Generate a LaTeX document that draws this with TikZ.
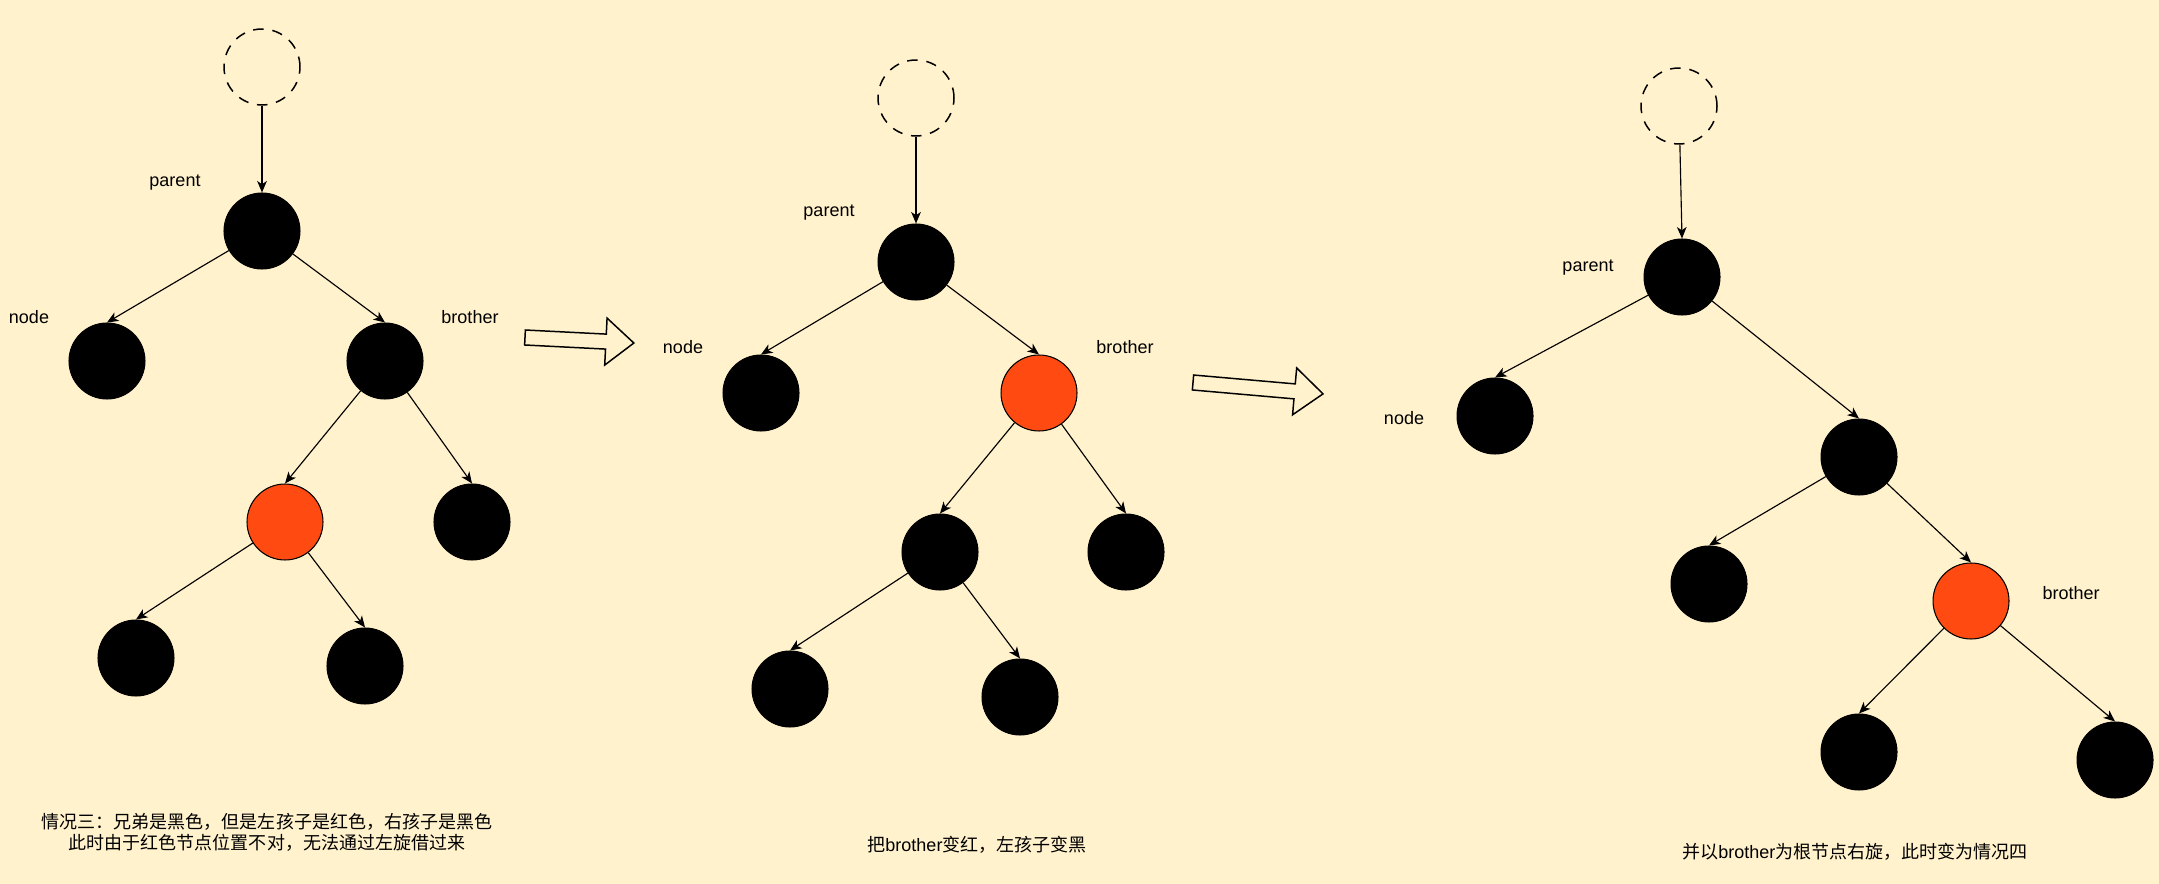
\documentclass[tikz,border=0pt]{standalone}
\usepackage{fontspec}
\setmainfont{Liberation Sans}
\newfontfamily\cjk{Noto Sans CJK SC}
\usepackage{xcolor}
\usepackage{tikz}
\usetikzlibrary{arrows.meta,positioning}

\definecolor{bgyellow}{HTML}{FFF2CC}
\definecolor{rbred}{HTML}{FF4B12}
\newcommand{\lblfont}{\fontsize{10.25pt}{12pt}\selectfont}

\begin{document}
\begin{tikzpicture}[x=0.02cm, y=-0.02cm,
  blk/.style={circle, draw=black, fill=black, minimum size=1.52cm, inner sep=0pt, line width=0.6pt},
  rednode/.style={circle, draw=black, fill=rbred, minimum size=1.52cm, inner sep=0pt, line width=0.6pt},
  ghost/.style={circle, draw=black, dash pattern=on 6pt off 5pt, minimum size=1.52cm, inner sep=0pt, line width=0.85pt},
  arr/.style={-{Stealth[length=6.5pt, width=5.5pt, inset=1.8pt]}, line width=0.65pt},
  lbl/.style={inner sep=0pt, font=\lblfont},
  caption/.style={inner sep=0pt, align=center, font=\lblfont},
  fat/.style={draw=black, line width=0.85pt, line join=miter}
]
\fill[bgyellow] (0,0) rectangle (2159,884);
\useasboundingbox (0,0) rectangle (2159,884);

% case three: sibling black, its left child red
\node[ghost] (g1) at (262,67) {};
\node[blk] (p1) at (262,231) {};
\node[blk] (n1) at (107,361) {};
\node[blk] (b1) at (385,361) {};
\node[rednode] (r1) at (285,522) {};
\node[blk] (s1) at (472,522) {};
\node[blk] (rl1) at (136,658) {};
\node[blk] (rr1) at (365,666) {};
\node[lbl] (pl1) at (175,183) {parent};
\node[lbl] (nl1) at (29,317) {node};
\node[lbl] (bl1) at (470,317) {brother};
\draw[arr] (g1) -- (p1);
\draw[arr] (p1) -- (n1.north);
\draw[arr] (p1) -- (b1.north);
\draw[arr] (b1) -- (r1.north);
\draw[arr] (b1) -- (s1.north);
\draw[arr] (r1) -- (rl1.north);
\draw[arr] (r1) -- (rr1.north);
\node[caption] (c1) at (267,832) {{\cjk 情况三：兄弟是黑色，但是左孩子是红色，右孩子是黑色}\\{\cjk 此时由于红色节点位置不对，无法通过左旋借过来}};

\begin{scope}[shift={(525,337.5)}, rotate=-2.9]
  \draw[fat] (0,-7.5) -- (81,-7.5) -- (81,-23.5) -- (109,0) -- (81,23.5) -- (81,7.5) -- (0,7.5) -- cycle;
\end{scope}

% recolour brother and its left child
\node[ghost] (g2) at (916,98) {};
\node[blk] (p2) at (916,262) {};
\node[blk] (n2) at (761,393) {};
\node[rednode] (b2) at (1039,393) {};
\node[blk] (l2) at (940,552) {};
\node[blk] (s2) at (1126,552) {};
\node[blk] (ll2) at (790,689) {};
\node[blk] (lr2) at (1020,697) {};
\node[lbl] (pl2) at (829,213) {parent};
\node[lbl] (nl2) at (683,347) {node};
\node[lbl] (bl2) at (1125,347) {brother};
\draw[arr] (g2) -- (p2);
\draw[arr] (p2) -- (n2.north);
\draw[arr] (p2) -- (b2.north);
\draw[arr] (b2) -- (l2.north);
\draw[arr] (b2) -- (s2.north);
\draw[arr] (l2) -- (ll2.north);
\draw[arr] (l2) -- (lr2.north);
\node[caption] (c2) at (977,845) {{\cjk 把}brother{\cjk 变红，左孩子变黑}};

\begin{scope}[shift={(1193,382.5)}, rotate=-5]
  \draw[fat] (0,-7.5) -- (102,-7.5) -- (102,-23.5) -- (130.5,0) -- (102,23.5) -- (102,7.5) -- (0,7.5) -- cycle;
\end{scope}

% right rotation at brother
\node[ghost] (g3) at (1679,106) {};
\node[blk] (p3) at (1682,277) {};
\node[blk] (n3) at (1495,416) {};
\node[blk] (m3) at (1859,457) {};
\node[blk] (l3) at (1709,584) {};
\node[rednode] (b3) at (1971,601) {};
\node[blk] (bl3) at (1859,752) {};
\node[blk] (br3) at (2115,760) {};
\node[lbl] (pl3) at (1588,268) {parent};
\node[lbl] (nl3) at (1404,418) {node};
\node[lbl] (bb3) at (2071,593) {brother};
\draw[arr] (g3) -- (p3.north);
\draw[arr] (p3) -- (n3.north);
\draw[arr] (p3) -- (m3.north);
\draw[arr] (m3) -- (l3.north);
\draw[arr] (m3) -- (b3.north);
\draw[arr] (b3) -- (bl3.north);
\draw[arr] (b3) -- (br3.north);
\node[caption] (c3) at (1855,852) {{\cjk 并以}brother{\cjk 为根节点右旋，此时变为情况四}};
\end{tikzpicture}
\end{document}
